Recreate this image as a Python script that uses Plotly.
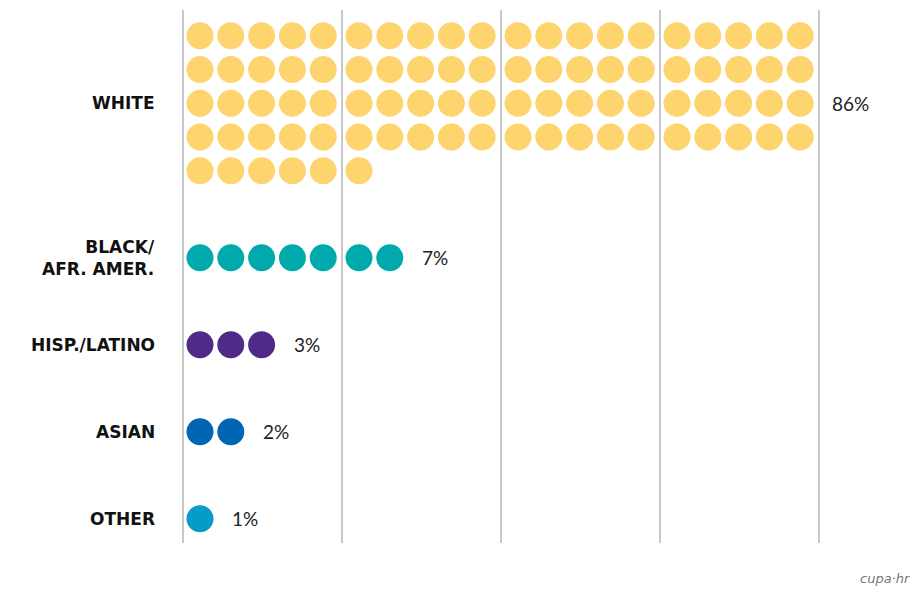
import math
import plotly.graph_objects as go

# ---- data ----
categories = ["WHITE", "BLACK/<br>AFR. AMER.", "HISP./LATINO", "ASIAN", "OTHER"]
percents = [86, 7, 3, 2, 1]
pct_labels = ["86%", "7%", "3%", "2%", "1%"]
colors = ["#FED46E", "#00A9AC", "#4F2B87", "#0066B3", "#069CC8"]

# ---- layout constants (in dot-pitch units) ----
PER_ROW = 20
PER_GROUP = 5
GW = 159 / 30.8       # width of one 5-dot group between grid lines
OFF = 17 / 30.8       # offset of first dot from grid line
ROW_GAP = 87 / 33.75  # gap between last row of one category and first row of next
XR = 30.8             # px per x unit
YR = 33.75            # px per y unit


def col_x(c):
    g, j = divmod(c, PER_GROUP)
    return g * GW + OFF + j


fig = go.Figure()
annotations = []
y_start = 0.0
for cat, n, lab, col in zip(categories, percents, pct_labels, colors):
    xs, ys = [], []
    nrows = math.ceil(n / PER_ROW)
    for k in range(n):
        r, c = divmod(k, PER_ROW)
        xs.append(col_x(c))
        ys.append(y_start + r)
    fig.add_trace(go.Scatter(
        x=xs, y=ys, mode="markers", hoverinfo="skip",
        marker=dict(size=27, color=col, line=dict(width=0)),
        showlegend=False,
    ))
    yc = y_start + (nrows - 1) / 2
    annotations.append(dict(
        x=-26 / XR, y=yc, xref="x", yref="y", text=cat, showarrow=False,
        xanchor="right", yanchor="middle", align="right",
        font=dict(family="DejaVu Sans", size=17, color="#111111", weight="bold"),
    ))
    last_x = max(xs)
    annotations.append(dict(
        x=last_x + 30 / XR, y=yc, xref="x", yref="y", text=lab, showarrow=False,
        xanchor="left", yanchor="middle",
        font=dict(family="Lato", size=19, color="#222222"),
    ))
    y_start = y_start + (nrows - 1) + ROW_GAP

annotations.append(dict(
    x=885 / 921, y=-0.066, xref="paper", yref="paper", text="<i>cupa·hr</i>",
    showarrow=False, xanchor="center", yanchor="middle",
    font=dict(family="DejaVu Sans", size=13, color="#777777"),
))

grid_vals = [g * GW for g in range(PER_ROW // PER_GROUP + 1)]

fig.update_layout(
    width=921, height=593,
    margin=dict(l=0, r=0, t=10, b=50),
    paper_bgcolor="white", plot_bgcolor="white",
    xaxis=dict(range=[-183 / XR, 738 / XR], tickvals=grid_vals, showticklabels=False,
               showgrid=True, gridcolor="#c8c8c8", gridwidth=1.5, zeroline=False,
               ticks="", showline=False, fixedrange=True),
    yaxis=dict(range=[(543 - 35.7) / YR, (10 - 35.7) / YR], showgrid=False,
               showticklabels=False, zeroline=False, ticks="", showline=False, fixedrange=True),
    annotations=annotations,
)

fig.write_html("out.html", config={"displayModeBar": False},
               post_script="document.body.style.margin='0';")
